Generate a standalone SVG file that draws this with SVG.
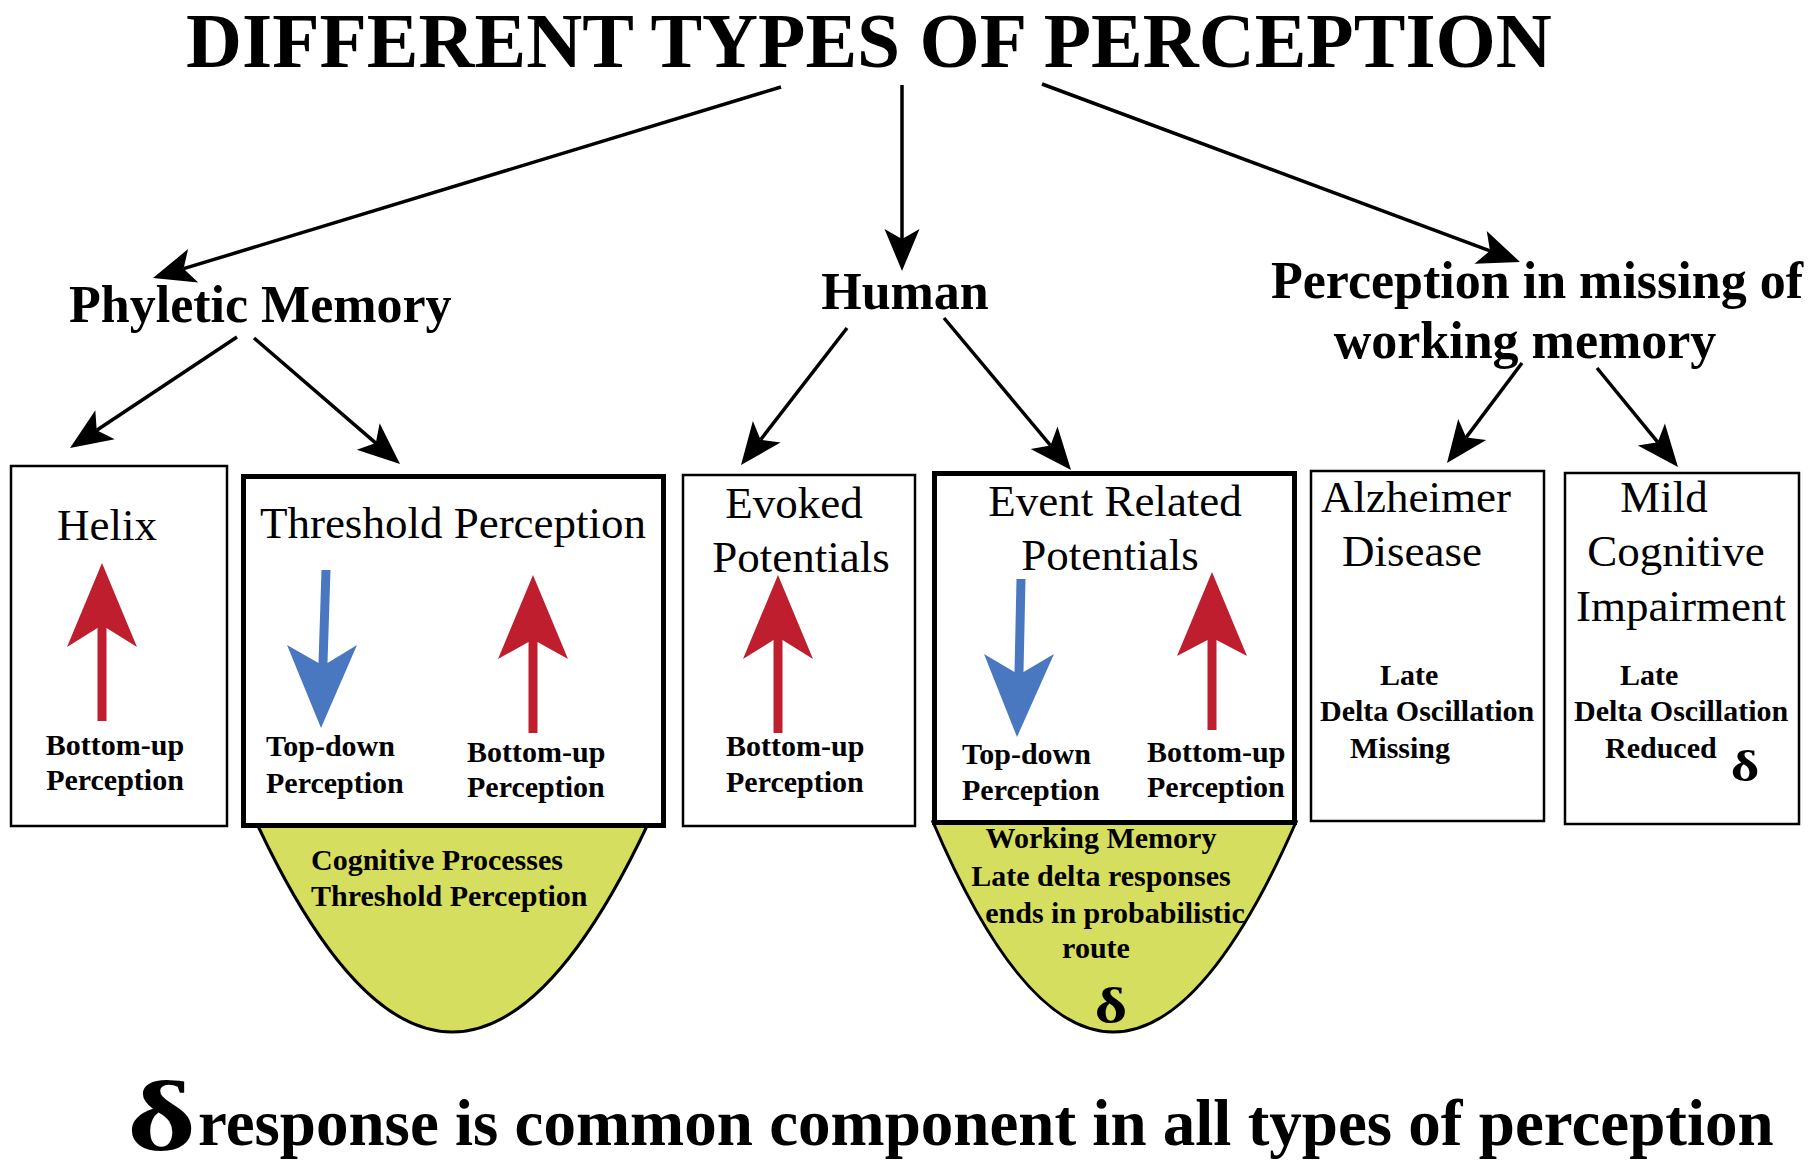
<svg xmlns="http://www.w3.org/2000/svg" width="1813" height="1171" viewBox="0 0 1813 1171">
<style>
.t{font-family:"Liberation Serif","Times New Roman",serif;fill:#000}
.b{font-weight:bold}
.h{font-size:52px;font-weight:bold}
.bt{font-size:45px}
.lb{font-size:30px;font-weight:bold}
.m{text-anchor:middle}
.thin{fill:#fff;stroke:#000;stroke-width:2.5}
.thick{fill:#fff;stroke:#000;stroke-width:5}
.bowl{fill:#d5de5e;stroke:#000;stroke-width:3}
.con{stroke:#000;stroke-width:3.5;fill:none}
.red{fill:#be1e2d}
.blue{fill:#4a78c0}
</style>
<defs>
<marker id="ah" markerUnits="userSpaceOnUse" markerWidth="50" markerHeight="40" viewBox="-12 -20 46 40" refX="0" refY="0" orient="auto">
<path d="M32,0 L-10,-17.5 L0,0 L-10,17.5 Z" fill="#000"/>
</marker>
</defs>
<rect width="1813" height="1171" fill="#fff"/>

<g id="title"><text class="t b" x="186" y="67" font-size="77.5">DIFFERENT TYPES OF PERCEPTION</text></g>

<g id="connectors">
<line class="con" x1="781" y1="87" x2="183.6" y2="268.7" marker-end="url(#ah)"/>
<line class="con" x1="902" y1="85" x2="902" y2="239" marker-end="url(#ah)"/>
<line class="con" x1="1042" y1="84" x2="1490" y2="250.8" marker-end="url(#ah)"/>
<line class="con" x1="237" y1="337" x2="96.7" y2="430.3" marker-end="url(#ah)"/>
<line class="con" x1="254" y1="338" x2="375.8" y2="443.1" marker-end="url(#ah)"/>
<line class="con" x1="847" y1="328" x2="760.6" y2="439.7" marker-end="url(#ah)"/>
<line class="con" x1="944" y1="318" x2="1050.5" y2="445.4" marker-end="url(#ah)"/>
<line class="con" x1="1522" y1="363" x2="1466.2" y2="437.4" marker-end="url(#ah)"/>
<line class="con" x1="1597" y1="368" x2="1657.7" y2="442.2" marker-end="url(#ah)"/>
</g>

<g id="phyletic"><text class="t h" x="69" y="322">Phyletic Memory</text></g>
<g id="human"><text class="t h m" x="905" y="309">Human</text></g>
<g id="missing"><text class="t h m" x="1537" y="298">Perception in missing of</text><text class="t h m" x="1525" y="358">working memory</text></g>

<g id="helix">
<rect class="thin" x="11" y="466" width="216" height="360"/>
<text class="t bt m" x="107" y="540">Helix</text>
<path class="red" d="M102,563 L137,647 L106.5,628 L106.5,721 L97.5,721 L97.5,628 L67,647 Z"/>
<text class="t lb m" x="115" y="755">Bottom-up</text>
<text class="t lb m" x="115" y="790">Perception</text>
</g>

<g id="threshold-bowl">
<path class="bowl" d="M258,826 Q452,1238 647,826 Z"/>
<text class="t lb" x="311" y="870">Cognitive Processes</text>
<text class="t lb" x="311" y="906">Threshold Perception</text>
</g>
<g id="threshold">
<rect class="thick" x="243.5" y="476.5" width="420" height="349"/>
<text class="t bt m" x="453" y="538">Threshold Perception</text>
<path class="blue" d="M321.5,570 L330.5,570 L327.5,663 L357,645 L321,728 L287,645 L318.5,663 Z"/>
<path class="red" d="M533,575 L568,659 L537.5,642 L537.5,733 L528.5,733 L528.5,642 L498,659 Z"/>
<text class="t lb" x="266" y="756">Top-down</text>
<text class="t lb" x="266" y="793">Perception</text>
<text class="t lb" x="467" y="762">Bottom-up</text>
<text class="t lb" x="467" y="797">Perception</text>
</g>

<g id="evoked">
<rect class="thin" x="683" y="475" width="232" height="351"/>
<text class="t bt m" x="794" y="518">Evoked</text>
<text class="t bt m" x="801" y="572">Potentials</text>
<path class="red" d="M778,575 L813,659 L782.5,640 L782.5,733 L773.5,733 L773.5,640 L743,659 Z"/>
<text class="t lb" x="726" y="756">Bottom-up</text>
<text class="t lb" x="726" y="792">Perception</text>
</g>

<g id="erp-bowl">
<path class="bowl" d="M933,822 Q1112,1242 1296,822 Z"/>
<text class="t lb m" x="1101" y="848">Working Memory</text>
<text class="t lb m" x="1101" y="886">Late delta responses</text>
<text class="t lb m" x="1115" y="923">ends in probabilistic</text>
<text class="t lb m" x="1096" y="958">route</text>
<text class="t b m" transform="translate(1111,1023) scale(1.3,1.05)" x="0" y="0" font-size="48">δ</text>
</g>
<g id="erp">
<rect class="thick" x="934.5" y="473.5" width="360" height="349"/>
<text class="t bt m" x="1115" y="516">Event Related</text>
<text class="t bt m" x="1110" y="570">Potentials</text>
<path class="blue" d="M1016.5,579 L1025.5,579 L1023.5,672 L1054,654 L1017,737 L984,654 L1014.5,672 Z"/>
<path class="red" d="M1212,572 L1247,656 L1216.5,640 L1216.5,730 L1207.5,730 L1207.5,640 L1177,656 Z"/>
<text class="t lb" x="962" y="764">Top-down</text>
<text class="t lb" x="962" y="800">Perception</text>
<text class="t lb" x="1147" y="762">Bottom-up</text>
<text class="t lb" x="1147" y="797">Perception</text>
</g>

<g id="alzheimer">
<rect class="thin" x="1311" y="471" width="233" height="350"/>
<text class="t bt m" x="1416" y="512">Alzheimer</text>
<text class="t bt m" x="1412" y="566">Disease</text>
<text class="t lb" x="1380" y="685">Late</text>
<text class="t lb" x="1320" y="721">Delta Oscillation</text>
<text class="t lb" x="1350" y="758">Missing</text>
</g>

<g id="mild">
<rect class="thin" x="1565" y="473" width="234" height="351"/>
<text class="t bt m" x="1664" y="512">Mild</text>
<text class="t bt m" x="1676" y="566">Cognitive</text>
<text class="t bt m" x="1681" y="621">Impairment</text>
<text class="t lb" x="1620" y="685">Late</text>
<text class="t lb" x="1574" y="721">Delta Oscillation</text>
<text class="t lb" x="1605" y="758">Reduced</text>
<text class="t b m" transform="translate(1745,781) scale(1.25,1)" x="0" y="0" font-size="44">δ</text>
</g>

<g id="footer">
<text class="t b" transform="translate(127,1150) scale(1.4,1.05)" x="0" y="0" font-size="95">δ</text>
<text class="t b" x="198" y="1145" font-size="65">response is common component in all types of perception</text>
</g>
</svg>
